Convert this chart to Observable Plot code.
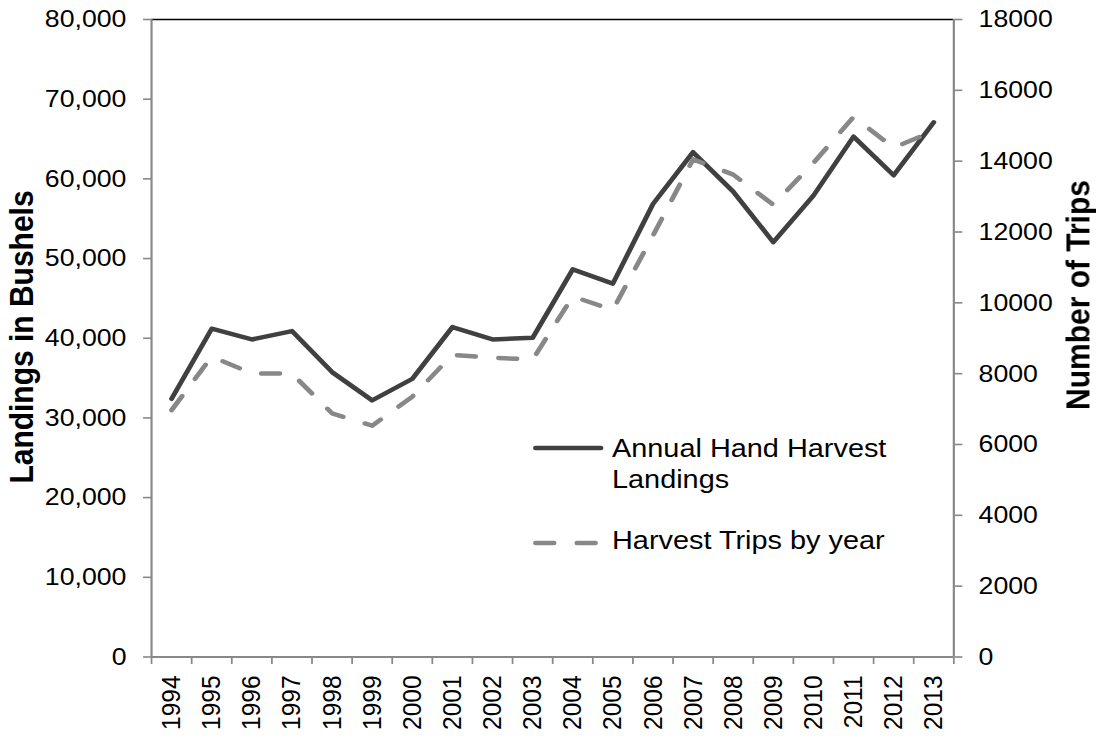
<!DOCTYPE html>
<html><head><meta charset="utf-8">
<script src="https://cdn.jsdelivr.net/npm/d3@7"></script>
<script src="https://cdn.jsdelivr.net/npm/@observablehq/plot@0.6"></script>
<style>
html,body{margin:0;padding:0;background:#fff;overflow:hidden}
#wrap{width:1096px;height:736px;overflow:hidden;position:relative;background:#fff}
#chart{position:absolute;left:0;top:0;transform-origin:0 0;transform:scaleX(1.09)}
#chart svg{overflow:visible}
</style></head><body><div id="wrap"><div id="chart"></div></div>
<script>
const years = [1994,1995,1996,1997,1998,1999,2000,2001,2002,2003,2004,2005,2006,2007,2008,2009,2010,2011,2012,2013];
const landings = [32400,41200,39850,40900,35750,32200,34900,41400,39850,40050,48650,46850,56850,63350,58400,52050,57900,65300,60450,67100];
const trips = [6970,8480,8010,8000,6880,6530,7350,8530,8450,8400,10180,9800,11900,14050,13620,12770,13950,15250,14380,14850];
const leftTicks = [0,10000,20000,30000,40000,50000,60000,70000,80000];
const rightTicks = [0,2000,4000,6000,8000,10000,12000,14000,16000,18000];
const seriesNames = ["Annual Hand Harvest Landings","Harvest Trips by year"];
const axisTitles = ["Landings in Bushels","Number of Trips"];

const S = 1.09, W = 1096 / S, H = 736;
const leftMax = leftTicks[leftTicks.length - 1], rightMax = rightTicks[rightTicks.length - 1];
const k = leftMax / rightMax;
const yearBounds = d3.range(years[0] - 0.5, years[years.length - 1] + 1, 1);
const landData = years.map((y, i) => ({year: y, value: landings[i]}));
const tripData = years.map((y, i) => ({year: y, value: trips[i] * k}));
const AX = "#888888";
const FONT = "'Liberation Sans', Arial, Helvetica, sans-serif";

const plot = Plot.plot({
  width: W, height: H,
  marginLeft: 151 / S, marginRight: W - 953.3 / S, marginTop: 19, marginBottom: H - 656.5,
  style: {fontFamily: FONT, fontSize: "24.5px", color: "#000", background: "#fff", overflow: "visible"},
  x: {type: "linear", domain: [yearBounds[0], yearBounds[yearBounds.length - 1]], label: null},
  y: {domain: [0, leftMax], label: null},
  marks: [
    Plot.ruleY([leftMax], {stroke: "#000", strokeWidth: 1.3}),
    Plot.line(landData, {x: "year", y: "value", stroke: "#404040", strokeWidth: 4.5, strokeLinejoin: "round", strokeLinecap: "round"}),
    Plot.line(tripData, {x: "year", y: "value", stroke: "#888888", strokeWidth: 4.5, strokeDasharray: "17,21", strokeLinecap: "round", strokeLinejoin: "round"}),
    Plot.ruleX([yearBounds[0]], {stroke: AX, strokeWidth: 2}),
    Plot.ruleX([yearBounds[yearBounds.length - 1]], {stroke: AX, strokeWidth: 2}),
    Plot.ruleY([0], {stroke: AX, strokeWidth: 2}),
    Plot.axisY(leftTicks, {anchor: "left", tickSize: 7.3, tickPadding: 15.7, tickFormat: d3.format(","), stroke: AX, fill: "#000", strokeWidth: 1.6, label: null}),
    Plot.axisY(rightTicks.map(t => t * k), {anchor: "right", tickSize: 7.3, tickPadding: 15.4, tickFormat: d => String(Math.round(d / k)), stroke: AX, fill: "#000", strokeWidth: 1.6, label: null}),
    Plot.axisX(yearBounds, {anchor: "bottom", tickSize: 7.5, tickFormat: () => "", stroke: AX, strokeWidth: 1.6, label: null}),
    Plot.axisX(years, {anchor: "bottom", tickSize: 0, tickPadding: 18.5, tickRotate: -90, tickFormat: d => String(d), fill: "#000", label: null})
  ]
});
document.getElementById("chart").appendChild(plot);

const svg = d3.select(plot);
// axis titles
svg.append("text").text(axisTitles[0])
  .attr("transform", `translate(${22 / S},337) rotate(-90)`)
  .attr("text-anchor", "middle").attr("dominant-baseline", "central")
  .attr("font-family", FONT).attr("font-size", 30).attr("font-weight", "bold").attr("fill", "#000");
svg.append("text").text(axisTitles[1])
  .attr("transform", `translate(${1079 / S},295) rotate(-90)`)
  .attr("text-anchor", "middle").attr("dominant-baseline", "central")
  .attr("font-family", FONT).attr("font-size", 30).attr("font-weight", "bold").attr("fill", "#000");

// legend
const lg = svg.append("g").attr("font-family", FONT).attr("font-size", 26.5).attr("fill", "#000").attr("text-anchor", "start");
const lx1 = 535.5 / S, lx2 = 601 / S, tx = 612 / S;
lg.append("line").attr("x1", lx1).attr("x2", lx2).attr("y1", 448).attr("y2", 448)
  .attr("stroke", "#404040").attr("stroke-width", 4.5).attr("stroke-linecap", "round");
lg.append("line").attr("x1", lx1).attr("x2", lx2 - 2).attr("y1", 543).attr("y2", 543)
  .attr("stroke", "#888888").attr("stroke-width", 4.5).attr("stroke-linecap", "round").attr("stroke-dasharray", "17,21");
const n0 = seriesNames[0], cut = n0.lastIndexOf(" ");
lg.append("text").attr("x", tx).attr("y", 457).attr("text-anchor", "start").text(n0.slice(0, cut));
lg.append("text").attr("x", tx).attr("y", 488).attr("text-anchor", "start").text(n0.slice(cut + 1));
lg.append("text").attr("x", tx).attr("y", 549).attr("text-anchor", "start").text(seriesNames[1]);
</script>
</body></html>
